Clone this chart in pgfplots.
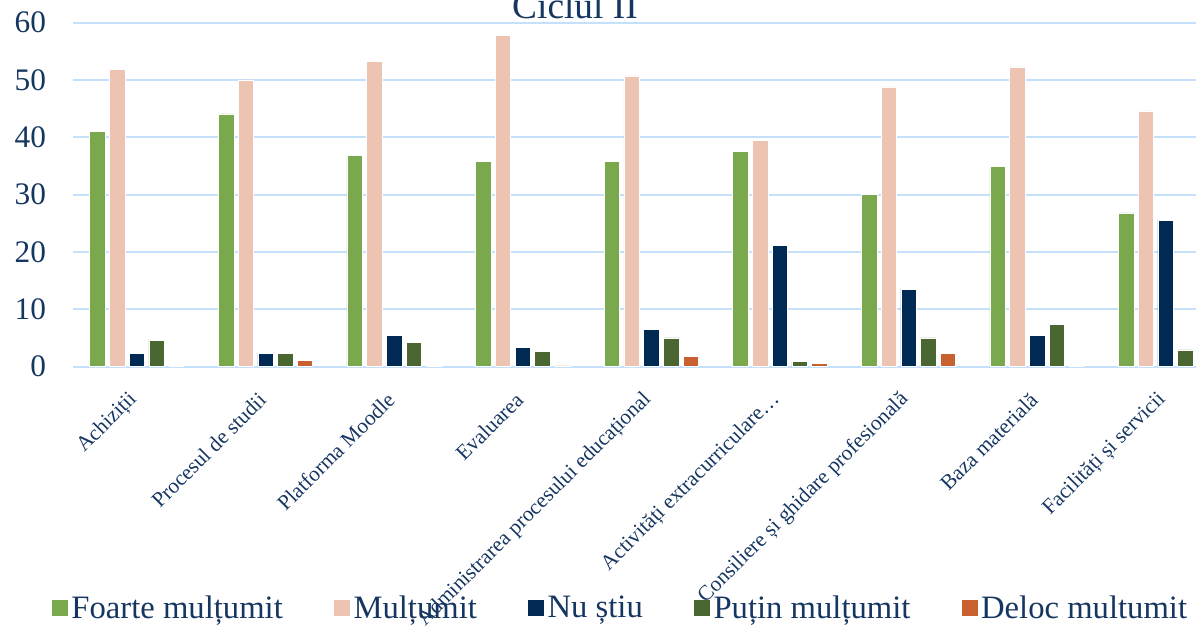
\documentclass[border=0pt]{standalone}
\usepackage{fontspec}
\setmainfont{Liberation Serif}
\usepackage{pgfplots}
\pgfplotsset{compat=1.18}

\definecolor{cgreen}{RGB}{122,168,76}
\definecolor{cpink}{RGB}{237,195,177}
\definecolor{cnavy}{RGB}{0,42,84}
\definecolor{cdkgreen}{RGB}{74,102,49}
\definecolor{corange}{RGB}{200,96,47}
\definecolor{ctext}{RGB}{22,54,98}
\definecolor{cgrid}{RGB}{197,224,250}

\begin{document}
\begin{tikzpicture}
\begin{axis}[
    at={(0,0)}, anchor=south west,
    width=868pt, height=257.9pt,
    scale only axis,
    ybar=3.2pt,
    bar width=11.6pt,
    xmin=-0.5, xmax=8.5,
    ymin=0, ymax=60,
    ytick={0,10,...,60},
    xtick={0,...,8},
    xticklabels={Achiziții, Procesul de studii, Platforma Moodle, Evaluarea,
        Administrarea procesului educațional, Activități extracurriculare…,
        Consiliere și ghidare profesională, Baza materială, Facilități și servicii},
    major tick length=0pt,
    ymajorgrids,
    grid style={cgrid, line width=1.5pt},
    axis lines*=left,
    x axis line style={cgrid, line width=1.5pt, -},
    y axis line style={draw=none},
    /pgf/number format/assume math mode=true,
    yticklabel style={font=\fontsize{23.5}{23.5}\selectfont, text=ctext, xshift=-16.5pt},
    xticklabel style={font=\fontsize{16}{16}\selectfont, text=ctext, yshift=-20pt, rotate=45, anchor=east},
    title={Ciclul II},
    title style={font=\fontsize{28}{28}\selectfont, text=ctext, at={(0.434,0.99)}, anchor=base},
    legend columns=5,
    legend style={at={(-0.018,-0.702)}, anchor=west, draw=none, fill=none, inner sep=0pt,
        font=\fontsize{24.5}{24.5}\selectfont, text=ctext,
        nodes={inner sep=2.5pt},
        /tikz/every even column/.append style={column sep=36pt}},
    legend image code/.code={\path[#1, draw=none] (0pt,-6pt) rectangle (12pt,6pt);},
    clip=false,
]
% Foarte multumit
\addplot[fill=cgreen, draw=white, line width=0.4pt] coordinates {
    (0,41.0) (1,44.1) (2,36.8) (3,35.8) (4,35.8) (5,37.5) (6,30.1) (7,34.9) (8,26.8)};
% Multumit
\addplot[fill=cpink, draw=white, line width=0.4pt] coordinates {
    (0,51.9) (1,50.0) (2,53.3) (3,57.8) (4,50.7) (5,39.4) (6,48.8) (7,52.3) (8,44.6)};
% Nu stiu
\addplot[fill=cnavy, draw=white, line width=0.4pt] coordinates {
    (0,2.3) (1,2.3) (2,5.4) (3,3.4) (4,6.5) (5,21.2) (6,13.5) (7,5.4) (8,25.5)};
% Putin multumit
\addplot[fill=cdkgreen, draw=white, line width=0.4pt] coordinates {
    (0,4.6) (1,2.3) (2,4.2) (3,2.6) (4,5.0) (5,0.9) (6,5.0) (7,7.4) (8,2.9)};
% Deloc multumit
\addplot[fill=corange, draw=white, line width=0.4pt] coordinates {
    (0,0) (1,1.1) (2,0.2) (3,0.1) (4,1.8) (5,0.6) (6,2.3) (7,0) (8,0)};
\legend{Foarte mulțumit, Mulțumit, Nu știu, Puțin mulțumit, Deloc multumit}
\end{axis}
\pgfresetboundingbox
\path[use as bounding box] (-54.5pt,-195.4pt) rectangle (842.5pt,274.9pt);
\end{tikzpicture}
\end{document}
